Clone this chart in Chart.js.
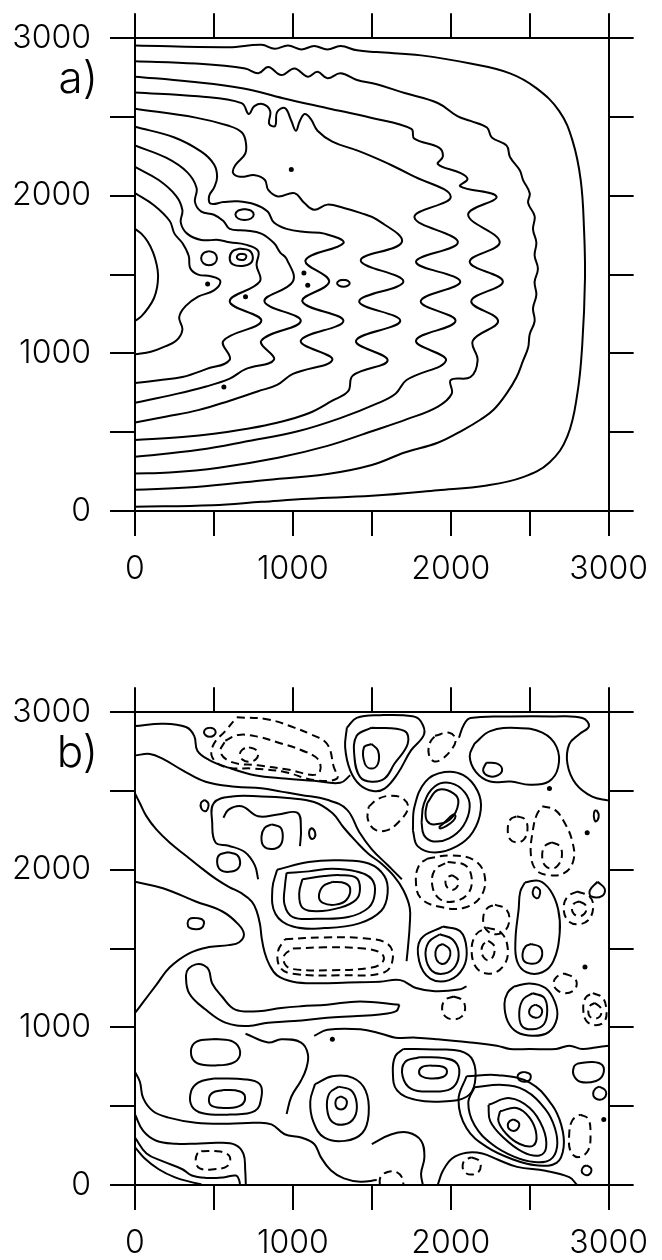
<!DOCTYPE html>
<html>
<head>
<meta charset="utf-8">
<title>Contour panels a) and b)</title>
<script src="https://cdn.jsdelivr.net/npm/chart.js"></script>
<style>
  body { margin: 0; background: #fff; }
  #wrap { position: relative; width: 662px; height: 1260px; background: #fff; }
  #wrap canvas { position: absolute; left: 0; }
  .lab { position: absolute; left: 0; width: 98px; text-align: right; color: #000;
         font-family: Inter, 'DejaVu Sans', sans-serif; font-weight: 300; font-size: 44px; line-height: 44px; }
</style>
</head>
<body>
<div id="wrap">
  <canvas id="chartA" width="662" height="600" style="top:0px"></canvas>
  <canvas id="chartB" width="662" height="600" style="top:674px"></canvas>
  <div class="lab" style="top:55px">a)</div>
  <div class="lab" style="top:729px">b)</div>
</div>
<script>
// axis ticks (both panels)
const tickValues = [0, 500, 1000, 1500, 2000, 2500, 3000];
const tickLabels = ['0', '', '1000', '', '2000', '', '3000'];

// ---- panel a) : contour lines (x, y) ----
const a1 = [[0,2954],[594,2943],[802,2958],[885,2933],[969,2954],[1052,2929],[1135,2950],[1219,2929],[1302,2950],[1406,2923],[1531,2912],[1812,2891],[2125,2839],[2375,2777],[2542,2683],[2687,2537],[2771,2350],[2823,2100],[2844,1787],[2850,1475],[2833,1058],[2802,746],[2739,475],[2625,308],[2458,215],[2229,162],[1917,131],[1500,96],[1100,78],[802,58],[490,37],[0,27]];
const a2 = [[0,2854],[385,2839],[698,2808],[781,2777],[844,2818],[927,2766],[1010,2808],[1094,2756],[1156,2787],[1219,2746],[1302,2777],[1406,2735],[1531,2708],[1708,2652],[1917,2589],[2042,2506],[2125,2475],[2229,2433],[2260,2370],[2354,2318],[2375,2246],[2437,2162],[2458,2100],[2500,2016],[2490,1954],[2531,1871],[2521,1787],[2542,1704],[2531,1621],[2552,1537],[2531,1454],[2542,1371],[2521,1287],[2531,1204],[2500,1121],[2490,1037],[2458,954],[2417,850],[2354,746],[2271,642],[2187,579],[2083,517],[1917,433],[1708,371],[1500,292],[1219,235],[802,194],[385,152],[0,135]];
const a3 = [[0,2756],[344,2725],[688,2681],[938,2619],[1219,2556],[1500,2494],[1750,2425],[1769,2363],[1925,2306],[1950,2250],[1919,2200],[2063,2144],[2106,2106],[2060,2060],[2290,1994],[2110,1880],[2310,1706],[2120,1581],[2330,1456],[2130,1331],[2300,1206],[2140,1081],[2170,956],[2125,850],[2000,831],[2006,744],[1919,663],[1719,581],[1500,506],[1219,413],[906,338],[531,275],[219,244],[0,238]];
const a4 = [[0,2656],[400,2631],[675,2588],[720,2519],[756,2569],[813,2581],[856,2538],[850,2456],[888,2444],[900,2531],[950,2556],[988,2481],[1019,2413],[1044,2475],[1075,2519],[1113,2488],[1156,2413],[1250,2344],[1406,2288],[1500,2250],[1625,2194],[1750,2131],[2000,1994],[1770,1863],[2045,1706],[1780,1581],[2060,1456],[1810,1331],[2030,1206],[1780,1081],[1970,956],[1720,831],[1650,744],[1531,681],[1313,594],[1031,506],[719,444],[406,388],[0,344]];
const a5 = [[0,2552],[385,2496],[594,2444],[677,2402],[702,2339],[698,2267],[635,2194],[621,2146],[667,2121],[760,2131],[823,2100],[844,2037],[906,1996],[1010,2017],[1073,1954],[1135,1912],[1219,1944],[1323,1923],[1427,1892],[1530,1850],[1690,1706],[1430,1590],[1700,1456],[1420,1330],[1680,1206],[1400,1080],[1600,956],[1380,860],[1350,760],[1250,700],[1100,620],[900,560],[700,520],[500,490],[300,470],[0,450]];
const a6 = [[0,2438],[250,2370],[420,2280],[500,2200],[520,2120],[500,2050],[470,2000],[480,1950],[560,1960],[650,1965],[760,1945],[840,1900],[880,1830],[960,1790],[1080,1770],[1200,1760],[1320,1700],[1080,1590],[1230,1456],[1060,1330],[1320,1206],[1050,1080],[1250,960],[1000,870],[900,800],[780,760],[600,700],[400,640],[200,600],[0,562]];
const a7 = [[0,2319],[200,2240],[330,2150],[390,2050],[380,1960],[420,1900],[500,1880],[560,1840],[600,1790],[700,1780],[800,1760],[880,1700],[920,1640],[960,1600],[1000,1456],[820,1330],[1050,1206],[800,1080],[880,960],[700,900],[600,840],[450,790],[250,740],[0,687]];
const a8 = [[0,2183],[150,2100],[260,2000],[300,1910],[290,1830],[330,1760],[420,1720],[530,1720],[600,1705],[700,1690],[780,1650],[770,1560],[790,1456],[600,1330],[800,1206],[560,1080],[600,960],[450,900],[300,850],[150,830],[0,812]];
const a9 = [[0,2017],[120,1940],[220,1840],[250,1760],[300,1700],[340,1620],[350,1540],[400,1500],[480,1490],[540,1460],[500,1400],[400,1360],[320,1300],[280,1230],[300,1150],[260,1080],[180,1040],[100,1010],[0,994]];
const a10 = [[0,1790],[40,1760],[80,1710],[115,1640],[138,1560],[146,1496],[140,1420],[120,1350],[85,1290],[40,1235],[0,1206]];
// small closed contours in panel a)
const aLoop1 = [[694,1916],[735,1906],[752,1881],[735,1856],[694,1846],[653,1856],[636,1881],[653,1906]];
const aLoop2 = [[660,1665],[720,1655],[745,1620],[735,1575],[680,1555],[620,1565],[600,1600],[615,1645]];
const aLoop3 = [[675,1632],[700,1626],[705,1612],[695,1597],[675,1592],[652,1598],[645,1612],[655,1627]];
const aLoop4 = [[469,1649],[505,1636],[519,1604],[505,1572],[469,1559],[433,1572],[419,1604],[433,1636]];
const aLoop5 = [[1320,1467],[1348,1460],[1360,1445],[1348,1430],[1320,1423],[1292,1430],[1280,1445],[1292,1460]];
const aDots = [[990,2167],[1070,1510],[1094,1433],[700,1360],[460,1440],[563,787]];

// ---- panel b) : solid contour lines ----
const bOpen1 = [[0,2912],[177,2927],[323,2906],[375,2850],[395,2756],[468,2698],[593,2648],[759,2600],[947,2579],[1134,2565],[1300,2552],[1363,2600]];
const bOpen2 = [[0,2725],[94,2735],[177,2704],[302,2631],[447,2559],[635,2527],[801,2517],[926,2496],[1051,2475],[1217,2444],[1342,2382],[1420,2240],[1500,2130],[1600,2030],[1690,1940]];
const bOpen3 = [[0,2484],[31,2422],[73,2339],[135,2256],[219,2173],[323,2089],[427,2006],[510,1944],[594,1892],[677,1850],[740,1798],[771,1736],[792,1653],[802,1570],[820,1480],[850,1400],[900,1330],[1000,1290],[1150,1280],[1350,1285],[1550,1290],[1680,1300],[1780,1250],[1900,1230],[2050,1240],[2100,1260]];
const bOpen4 = [[0,1924],[177,1883],[385,1799],[551,1737],[655,1654],[690,1591],[660,1540],[593,1522],[468,1510],[343,1470],[219,1380],[135,1270],[52,1160],[0,1092]];
const bOpen5 = [[0,717],[31,655],[52,551],[115,468],[219,426],[385,395],[594,389],[760,395],[864,385],[948,322],[1052,301],[1135,260],[1177,177],[1240,94],[1323,42],[1427,21],[1531,31]];
const bOpen6 = [[0,447],[52,343],[135,281],[260,262],[385,262],[531,268],[635,255],[687,198],[698,94],[702,0]];
const bOpen7 = [[0,301],[73,200],[177,150],[300,100],[360,60],[450,45],[560,48],[640,60],[660,30],[665,0]];
const bOpen8 = [[2052,2838],[2083,2921],[2125,2963],[2375,2973],[2646,2973],[2833,2963],[2875,2911],[2812,2859],[2750,2796],[2739,2672],[2791,2547],[2896,2464],[3000,2439]];
const bOpen9 = [[1500,260],[1625,322],[1729,333],[1812,281],[1833,177],[1812,73],[1823,0]];
const bOpen10 = [[1917,0],[1950,90],[2010,170],[2100,205],[2200,200],[2300,160],[2420,115],[2600,90],[2750,50],[2800,0]];
const bOpen11 = [[0,239],[60,170],[150,100],[250,50],[350,20],[420,5]];
const bOpen12 = [[780,1940],[759,2028],[697,2111],[593,2153],[510,2173],[489,2298],[499,2423],[614,2465],[801,2465],[967,2455],[1134,2430],[1250,2360],[1320,2270],[1400,2180],[1480,2100],[1560,2040],[1640,1960],[1700,1870],[1740,1760],[1740,1650],[1730,1520],[1720,1420]];
const bOpen13 = [[1135,946],[1219,985],[1427,988],[1560,960],[1650,935],[1780,935],[1917,925],[2125,904],[2292,884],[2375,863],[2500,863],[2667,863],[2750,884],[2833,863],[2917,873],[3000,884]];
const bOpen14 = [[560,2330],[593,2382],[676,2403],[780,2340],[905,2351],[1030,2361],[1051,2257],[1045,2150]];
const bOpen15 = [[700,960],[844,904],[927,925],[1052,904],[1095,830],[1085,740],[1050,660],[990,560],[960,450]];
const bFinger = [[1675,1144],[1425,1165],[1217,1144],[1051,1134],[926,1123],[780,1103],[635,1113],[551,1196],[489,1279],[468,1363],[437,1394],[385,1400],[339,1373],[323,1330],[343,1217],[447,1113],[572,1030],[718,1009],[843,1030],[1009,1040],[1217,1061],[1383,1071],[1550,1082],[1654,1103]];
const bLoop1 = [[474,2902],[500,2893],[511,2873],[500,2853],[474,2844],[448,2853],[437,2873],[448,2893]];
const bLoop2 = [[442,2444],[465,2420],[460,2385],[442,2371],[420,2390],[418,2425]];
const bLoop3 = [[590,2111],[645,2095],[666,2050],[650,2005],[595,1987],[540,2000],[520,2050],[535,2095]];
const bLoop4 = [[385,1695],[425,1685],[437,1660],[420,1630],[385,1623],[345,1632],[333,1660],[345,1688]];
const bLoop5 = [[865,2288],[920,2270],[936,2215],[920,2155],[870,2132],[815,2150],[801,2210],[820,2265]];
const bLoop6 = [[1122,2267],[1140,2240],[1140,2210],[1122,2195],[1105,2215],[1105,2250]];
const bLoop7 = [[1250,1924],[1330,1915],[1363,1880],[1340,1810],[1270,1779],[1190,1790],[1165,1830],[1190,1895]];
const bLoop8 = [[1060,1940],[1200,1960],[1300,1966],[1400,1950],[1425,1880],[1400,1810],[1300,1760],[1150,1737],[1060,1760],[1040,1850]];
const bLoop9 = [[960,1980],[1100,1990],[1250,2007],[1400,1990],[1500,1940],[1519,1850],[1480,1760],[1350,1700],[1150,1690],[1000,1700],[947,1780],[950,1900]];
const bLoop10 = [[1925,2270],[1960,2300],[2015,2350],[2030,2340],[2015,2310],[1975,2280],[1935,2262]];
const bLoop11 = [[1851,2423],[1918,2506],[2017,2485],[2048,2423],[1995,2319],[1893,2288],[1851,2309],[1840,2360]];
const bLoop12 = [[1815,2300],[1830,2420],[1900,2530],[2000,2550],[2090,2490],[2120,2400],[2080,2280],[1990,2200],[1890,2180],[1830,2220]];
const bLoop13 = [[1760,2250],[1770,2400],[1840,2560],[1960,2620],[2080,2600],[2170,2500],[2190,2380],[2140,2240],[2040,2150],[1900,2110],[1790,2150]];
const bLoop14 = [[2225,2680],[2290,2675],[2325,2640],[2300,2600],[2240,2595],[2205,2630]];
const bLoop15 = [[2540,1893],[2565,1870],[2560,1830],[2540,1820],[2520,1845],[2525,1880]];
const bLoop16 = [[2930,1924],[2975,1880],[2960,1835],[2890,1831],[2881,1870]];
const bLoop17 = [[1950,1529],[1990,1500],[1997,1460],[1975,1415],[1940,1404],[1910,1430],[1903,1480],[1920,1515]];
const bLoop18 = [[1930,1591],[2010,1560],[2049,1480],[2030,1390],[1960,1342],[1880,1360],[1841,1450],[1860,1540]];
const bLoop19 = [[2510,1529],[2565,1510],[2579,1460],[2555,1415],[2510,1404],[2465,1420],[2455,1470],[2475,1515]];
const bLoop20 = [[2537,1144],[2570,1125],[2579,1100],[2565,1070],[2537,1061],[2505,1075],[2496,1100],[2510,1130]];
const bLoop21 = [[2520,1217],[2590,1190],[2611,1110],[2590,1020],[2520,988],[2450,1010],[2434,1100],[2460,1180]];
const bLoop22 = [[2400,1260],[2500,1279],[2600,1250],[2660,1160],[2673,1060],[2620,970],[2520,947],[2420,970],[2360,1040],[2340,1150],[2360,1220]];
const bLoop23 = [[510,926],[620,910],[666,845],[630,780],[510,759],[390,775],[354,845],[390,910]];
const bLoop24 = [[560,603],[660,595],[697,560],[670,505],[580,489],[490,500],[468,540],[490,585]];
const bLoop25 = [[500,676],[700,670],[790,640],[801,560],[760,470],[600,447],[430,455],[360,500],[354,590],[400,650]];
const bLoop27 = [[1305,562],[1335,545],[1342,520],[1330,490],[1305,479],[1278,490],[1269,520],[1278,548]];
const bLoop28 = [[1290,624],[1370,600],[1404,520],[1390,430],[1330,385],[1250,400],[1217,480],[1230,580]];
const bLoop29 = [[1870,759],[1950,750],[1976,720],[1950,685],[1870,676],[1815,690],[1799,720],[1820,750]];
const bLoop30 = [[1800,811],[1960,805],[2040,770],[2049,680],[2000,610],[1880,593],[1750,610],[1695,690],[1710,780]];
const bLoop31 = [[1700,863],[1900,860],[2060,850],[2140,790],[2153,650],[2100,560],[1950,530],[1780,540],[1660,600],[1633,720],[1650,820]];
const bLoop32 = [[2397,416],[2427,400],[2434,380],[2420,352],[2397,343],[2370,355],[2361,380],[2372,405]];
const bLoop33 = [[2312,468],[2417,489],[2500,426],[2542,322],[2521,249],[2437,260],[2354,322],[2302,405]];
const bLoop34 = [[2239,509],[2375,551],[2500,489],[2583,364],[2604,239],[2562,187],[2458,208],[2333,301],[2250,405]];
const bLoop35 = [[2150,620],[2330,635],[2470,600],[2600,480],[2660,360],[2673,240],[2630,160],[2530,146],[2400,180],[2260,260],[2150,380],[2111,520]];
const bLoop36 = [[2100,690],[2300,697],[2500,650],[2640,510],[2700,380],[2715,240],[2670,140],[2540,125],[2400,160],[2230,240],[2100,360],[2049,540]];
const bLoop37 = [[2465,718],[2500,705],[2507,685],[2495,662],[2465,655],[2435,665],[2423,688],[2435,708]];
const bLoop38 = [[2800,770],[2900,780],[2960,760],[2964,700],[2920,660],[2820,655],[2777,700],[2780,750]];
const bLoop39 = [[2940,624],[2975,605],[2985,580],[2970,550],[2940,541],[2910,555],[2902,582],[2915,610]];
const bLoop40 = [[2860,125],[2885,110],[2891,92],[2880,70],[2860,62],[2838,72],[2829,92],[2840,115]];
const bLoop41 = [[1498,2798],[1539,2756],[1539,2673],[1498,2642],[1456,2673],[1450,2777]];
const bLoop42 = [[1498,2902],[1706,2881],[1727,2798],[1643,2673],[1581,2579],[1498,2559],[1425,2590],[1390,2715],[1404,2850]];
const bLoop43 = [[1342,2902],[1331,2777],[1363,2631],[1425,2538],[1508,2500],[1581,2515],[1664,2611],[1747,2756],[1831,2860],[1810,2943],[1758,2975],[1550,2981],[1404,2964]];
const bLoop44 = [[2470,1920],[2560,1930],[2630,1870],[2680,1750],[2690,1600],[2650,1420],[2580,1350],[2480,1350],[2420,1420],[2410,1560],[2430,1750],[2440,1860]];
const bLoop45 = [[1140,640],[1250,690],[1380,680],[1460,600],[1480,450],[1440,330],[1330,280],[1200,300],[1130,400],[1110,530]];
const bLoop46 = [[2922,2380],[2937,2350],[2930,2315],[2915,2308],[2906,2340],[2910,2370]];
const bLoop47 = [[900,2000],[1100,2050],[1300,2060],[1480,2040],[1580,1960],[1600,1850],[1560,1740],[1420,1660],[1200,1630],[1000,1640],[890,1720],[870,1880]];
const bLoop48 = [[2150,2800],[2250,2880],[2420,2900],[2580,2870],[2670,2780],[2680,2650],[2620,2560],[2500,2540],[2380,2560],[2250,2560],[2160,2620],[2120,2720]];
const bLoop49 = [[1950,1640],[2060,1610],[2100,1500],[2080,1380],[1990,1300],[1870,1310],[1800,1420],[1810,1560]];
const bDots = [[2969,416],[2864,2235],[2625,2516],[1250,925],[2850,1383]];
// ---- panel b) : dashed contour lines ----
const bDash1 = [[645,2968],[843,2954],[1009,2902],[1113,2860],[1217,2798],[1259,2652],[1279,2579],[1134,2569],[947,2621],[759,2642],[572,2652],[489,2715],[499,2798],[572,2881]];
const bDash2 = [[572,2819],[655,2856],[780,2844],[905,2808],[1051,2760],[1165,2694],[1155,2606],[967,2636],[780,2663],[614,2683],[541,2746]];
const bDash3 = [[722,2777],[763,2763],[780,2731],[763,2699],[722,2685],[681,2699],[664,2731],[681,2763]];
const bDash4 = [[1900,2850],[1990,2870],[2030,2830],[2010,2770],[1940,2700],[1890,2690],[1860,2740],[1870,2810]];
const bDash5 = [[1480,2400],[1540,2450],[1625,2470],[1700,2450],[1729,2390],[1667,2300],[1594,2250],[1520,2255],[1475,2320]];
const bDash6 = [[2008,1966],[2040,1945],[2049,1919],[2035,1885],[2008,1872],[1980,1885],[1966,1919],[1978,1950]];
const bDash7 = [[1980,2049],[2090,2030],[2132,1950],[2110,1850],[2020,1799],[1930,1815],[1883,1900],[1900,2000]];
const bDash8 = [[1850,2070],[2000,2091],[2150,2060],[2215,1960],[2190,1830],[2080,1758],[1930,1765],[1810,1820],[1779,1930],[1800,2030]];
const bDash9 = [[2280,1779],[2350,1750],[2371,1680],[2340,1610],[2280,1591],[2225,1620],[2205,1690],[2230,1755]];
const bDash10 = [[2420,2340],[2470,2320],[2486,2260],[2465,2195],[2420,2174],[2375,2195],[2361,2260],[2378,2320]];
const bDash11 = [[2640,2174],[2690,2150],[2704,2090],[2680,2030],[2640,2007],[2595,2030],[2579,2090],[2595,2150]];
const bDash12 = [[2580,2403],[2660,2380],[2720,2300],[2770,2180],[2777,2060],[2720,1980],[2620,1966],[2540,2000],[2507,2100],[2520,2250],[2545,2350]];
const bDash13 = [[2813,1799],[2850,1780],[2860,1752],[2845,1720],[2813,1706],[2780,1720],[2767,1752],[2780,1785]];
const bDash14 = [[2800,1862],[2880,1830],[2902,1760],[2870,1680],[2800,1654],[2740,1680],[2715,1760],[2740,1830]];
const bDash15 = [[2237,1550],[2270,1525],[2278,1487],[2265,1445],[2237,1425],[2208,1445],[2195,1487],[2205,1525]];
const bDash16 = [[2230,1633],[2320,1600],[2361,1500],[2340,1400],[2260,1342],[2170,1370],[2132,1480],[2160,1590]];
const bDash17 = [[2720,1342],[2780,1315],[2798,1280],[2780,1235],[2720,1217],[2670,1240],[2652,1280],[2670,1320]];
const bDash18 = [[2900,1217],[2960,1190],[2985,1120],[2975,1040],[2920,1014],[2860,1040],[2839,1120],[2855,1190]];
const bDash19 = [[2912,1155],[2945,1130],[2954,1100],[2945,1070],[2912,1056],[2880,1070],[2871,1100],[2880,1135]];
const bDash20 = [[2018,1196],[2070,1175],[2091,1123],[2070,1070],[2018,1051],[1965,1070],[1945,1123],[1965,1175]];
const bDash21 = [[1000,1500],[1200,1508],[1450,1500],[1560,1470],[1571,1420],[1500,1380],[1250,1363],[1000,1370],[950,1400],[947,1460]];
const bDash22 = [[950,1560],[1200,1571],[1450,1565],[1600,1530],[1633,1440],[1580,1350],[1300,1331],[1000,1340],[920,1380],[905,1480]];
const bDash23 = [[420,215],[540,212],[600,180],[585,120],[500,100],[410,105],[385,150],[395,200]];
const bDash24 = [[2130,175],[2175,158],[2190,122],[2175,82],[2130,66],[2088,82],[2075,122],[2090,158]];
const bDash25 = [[2820,447],[2870,420],[2885,330],[2870,220],[2810,177],[2760,210],[2750,320],[2770,410]];
const bDashOpen1 = [[1550,0],[1555,50],[1600,83],[1660,80],[1695,40],[1700,0]];

const openA = [a1, a2, a3, a4, a5, a6, a7, a8, a9, a10];
const loopsA = [aLoop1, aLoop2, aLoop3, aLoop4, aLoop5];
const openB = [bOpen1, bOpen2, bOpen3, bOpen4, bOpen5, bOpen6, bOpen7, bOpen8, bOpen9, bOpen10, bOpen11, bOpen12, bOpen13, bOpen14, bOpen15];
const loopsB = [bFinger, bLoop1, bLoop2, bLoop3, bLoop4, bLoop5, bLoop6, bLoop7, bLoop8, bLoop9, bLoop10, bLoop11, bLoop12, bLoop13, bLoop14, bLoop15, bLoop16, bLoop17, bLoop18, bLoop19, bLoop20, bLoop21, bLoop22, bLoop23, bLoop24, bLoop25, bLoop27, bLoop28, bLoop29, bLoop30, bLoop31, bLoop32, bLoop33, bLoop34, bLoop35, bLoop36, bLoop37, bLoop38, bLoop39, bLoop40, bLoop41, bLoop42, bLoop43, bLoop44, bLoop45, bLoop46, bLoop47, bLoop48, bLoop49];
const dashB = [bDash1, bDash2, bDash3, bDash4, bDash5, bDash6, bDash7, bDash8, bDash9, bDash10, bDash11, bDash12, bDash13, bDash14, bDash15, bDash16, bDash17, bDash18, bDash19, bDash20, bDash21, bDash22, bDash23, bDash24, bDash25];
const dashOpenB = [bDashOpen1];

const tickFont = { family: "Inter, 'DejaVu Sans', sans-serif", size: 32, weight: 300 };

function lineSet(pts, closed, dashed) {
  const arr = closed ? pts.concat([pts[0]]) : pts;
  return {
    data: arr.map(p => ({ x: p[0], y: p[1] })),
    showLine: true,
    pointRadius: 0,
    borderColor: '#000',
    borderWidth: 2,
    borderDash: dashed ? [8, 5] : [],
    tension: 0.4,
    fill: false
  };
}

function dotSet(pts) {
  return { data: pts.map(p => ({ x: p[0], y: p[1] })), pointRadius: 2.5, pointBackgroundColor: '#000', pointBorderWidth: 0, showLine: false };
}

function axis(position, size, withLabels) {
  const horiz = position === 'top' || position === 'bottom';
  return {
    type: 'linear',
    position: position,
    min: 0,
    max: 3000,
    afterBuildTicks: s => { s.ticks = tickValues.map(v => ({ value: v })); },
    ticks: {
      autoSkip: false,
      maxRotation: 0,
      color: '#000',
      font: tickFont,
      padding: horiz ? 14 : 19,
      callback: (v) => withLabels ? tickLabels[tickValues.indexOf(v)] : ''
    },
    grid: { drawOnChartArea: false, drawTicks: true, tickLength: 25, color: '#000', lineWidth: 2 },
    border: { display: true, color: '#000', width: 2 },
    afterFit: s => { if (horiz) s.height = size; else s.width = size; }
  };
}

function makeChart(id, datasets) {
  new Chart(document.getElementById(id), {
    type: 'scatter',
    data: { datasets: datasets },
    options: {
      responsive: false,
      devicePixelRatio: 1,
      animation: false,
      events: [],
      layout: { padding: 0 },
      plugins: { legend: { display: false }, tooltip: { enabled: false } },
      scales: {
        x: axis('bottom', 89, true),
        x2: axis('top', 30, false),
        y: axis('left', 135, true),
        y2: axis('right', 46, false)
      }
    }
  });
}

const setsA = [];
openA.forEach(c => setsA.push(lineSet(c, false, false)));
loopsA.forEach(c => setsA.push(lineSet(c, true, false)));
setsA.push(dotSet(aDots));

const setsB = [];
openB.forEach(c => setsB.push(lineSet(c, false, false)));
loopsB.forEach(c => setsB.push(lineSet(c, true, false)));
dashB.forEach(c => setsB.push(lineSet(c, true, true)));
dashOpenB.forEach(c => setsB.push(lineSet(c, false, true)));
setsB.push(dotSet(bDots));

makeChart('chartA', setsA);
makeChart('chartB', setsB);
</script>
</body>
</html>
